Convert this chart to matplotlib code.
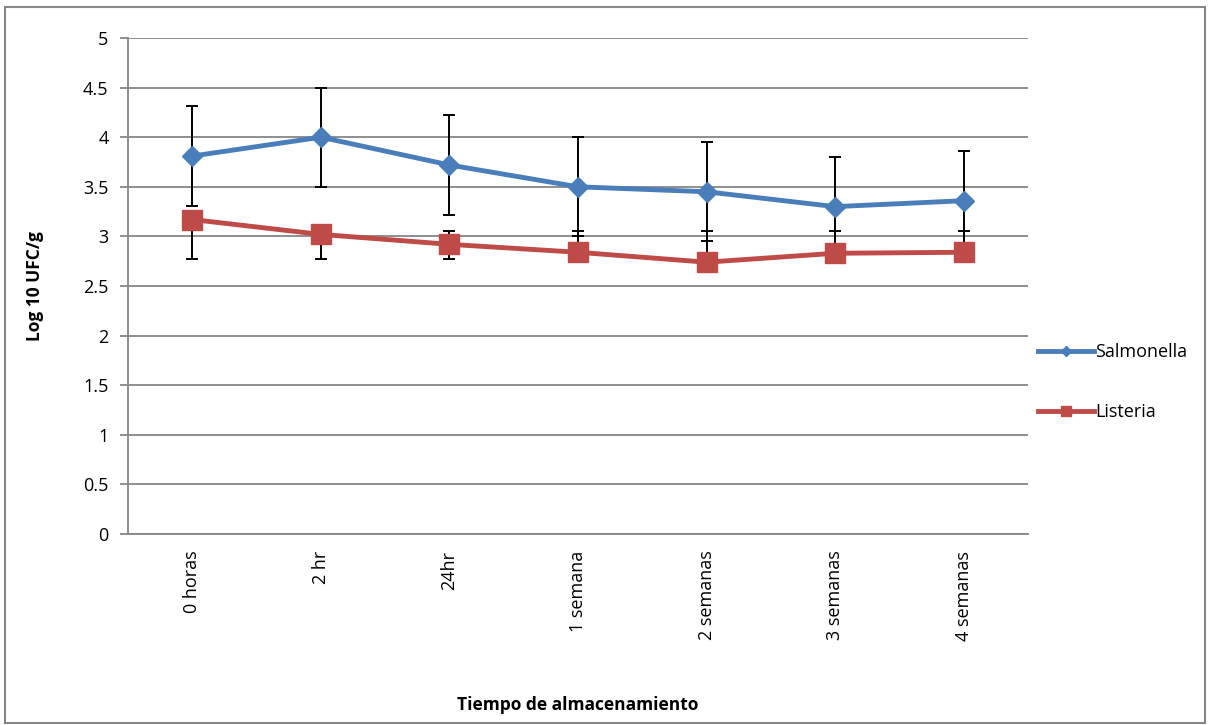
import numpy as np
import matplotlib.pyplot as plt
from matplotlib.patches import Rectangle

categorias = ['0 horas', '2 hr', '24hr', '1 semana', '2 semanas', '3 semanas', '4 semanas']
salmonella = [3.81, 4.00, 3.72, 3.50, 3.45, 3.30, 3.36]
salmonella_err = [0.5, 0.5, 0.5, 0.5, 0.5, 0.5, 0.5]
listeria = [3.17, 3.02, 2.92, 2.84, 2.74, 2.83, 2.84]
listeria_bajo = [2.77, 2.77, 2.77, 2.77, 2.77, 2.77, 2.77]
listeria_alto = [3.06, 3.05, 3.05, 3.05, 3.05, 3.05, 3.05]

plt.rcParams['font.family'] = ['Open Sans', 'DejaVu Sans']

fig = plt.figure(figsize=(12.1, 7.25), dpi=100)
ax = fig.add_axes([128/1210, 1-534/725, 900/1210, 496/725])

x = np.arange(len(categorias))
gris = '#868686'

# error bars first so the markers sit on top
ax.errorbar(x, salmonella, yerr=salmonella_err, fmt='none', ecolor='black',
            elinewidth=1.4, capsize=4.5, capthick=1.4, zorder=2)
lo = np.array(listeria_bajo)
hi = np.array(listeria_alto)
ax.errorbar(x, (lo + hi) / 2, yerr=(hi - lo) / 2, fmt='none', ecolor='black',
            elinewidth=1.4, capsize=4.5, capthick=1.4, zorder=2)

ax.plot(x, salmonella, color='#4a7ebb', lw=3.5, marker='D', ms=10,
        label='Salmonella', zorder=4)
ax.plot(x, listeria, color='#be4b48', lw=3.5, marker='s', ms=14,
        label='Listeria', zorder=3)

ax.set_xlim(-0.5, len(categorias) - 0.5)
ax.set_ylim(0, 5)
ax.set_yticks(np.arange(0, 5.01, 0.5))
ax.set_yticklabels(['0', '0.5', '1', '1.5', '2', '2.5', '3', '3.5', '4', '4.5', '5'])
ax.set_xticks(x)
ax.set_xticklabels(categorias, rotation=90)
ax.tick_params(axis='x', length=0, pad=12, labelsize=13)
ax.tick_params(axis='y', length=6, color=gris, width=1.3, labelsize=13, pad=8)
ax.grid(axis='y', color=gris, lw=1.3)
ax.set_axisbelow(True)

for s in ['top', 'right']:
    ax.spines[s].set_visible(False)
ax.spines['left'].set_color(gris)
ax.spines['bottom'].set_color(gris)
ax.spines['left'].set_linewidth(1.3)
ax.spines['bottom'].set_linewidth(1.3)

ax.set_ylabel('Log 10 UFC/g', fontsize=12.5, fontweight='bold', labelpad=28)
ax.set_xlabel('Tiempo de almacenamiento', fontsize=12.5, fontweight='bold', labelpad=40)

ax.legend(loc='center left', bbox_to_anchor=(0.993, 0.306), frameon=False,
          fontsize=13, handlelength=3.1, handletextpad=0.05, labelspacing=2.3,
          borderaxespad=0.5, markerscale=0.55)

fig.patches.append(Rectangle((5/1210, 1-723/725), 1200/1210, 716/725,
                             transform=fig.transFigure, fill=False,
                             edgecolor=gris, lw=1.5))

fig.savefig('out.png', dpi=100)
